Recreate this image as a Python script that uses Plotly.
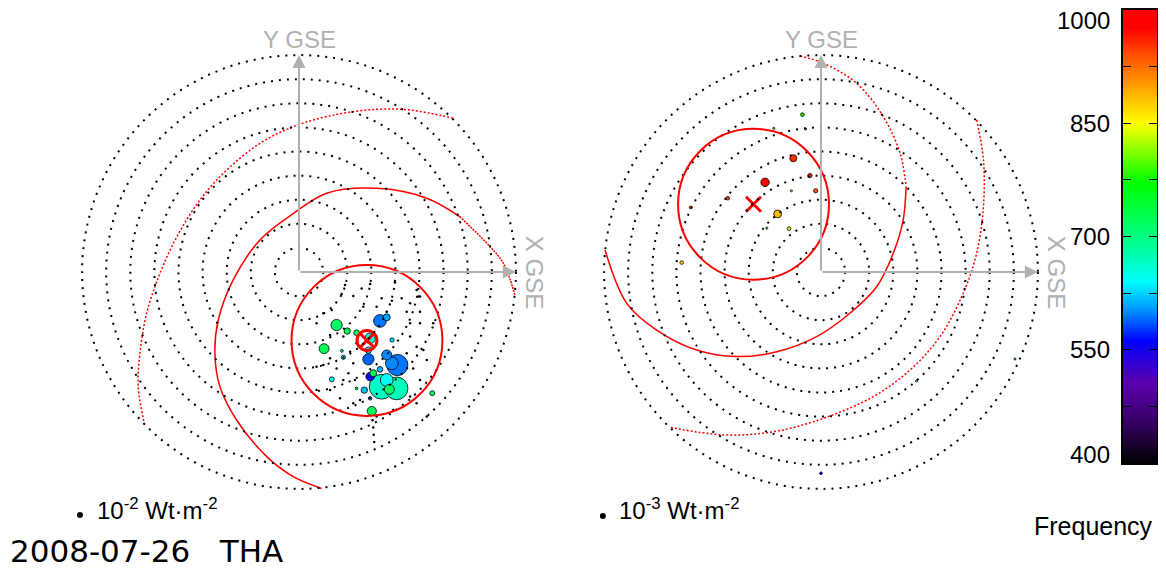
import numpy as np
import plotly.graph_objects as go

# ring radii (deg) of the sky grid, same for both panels
ring_r = [10, 20, 30, 40, 50, 60, 70, 80, 90]

# left panel (10^-2 W/m^2 scale) : x, y (GSE deg), frequency, power
big_x = [15.6, 20.0, 23.9, 33.6, 36.4, 10.4, 29.5, 28.8, 38.6, 28.8, 40.8, 36.4, 29.5, 30.8,
         33.6, 34.3, 40.5, 36.4, 37.5, 27.1, 30.2, 13.6, 18.4, 17.8, 55.3, 29.5, 23.9, 38.5]
big_y = [-22.0, -24.5, -25.2, -20.3, -18.8, -31.8, -27.5, -32.4, -28.2, -36.2, -38.6, -34.4, -43.4, -42.0,
         -40.4, -47.6, -48.3, -44.8, -48.7, -49.0, -57.7, -44.5, -35.4, -32.7, -50.3, -52.4, -48.3, -37.9]
big_f = [715, 720, 715, 595, 610, 725, 660, 640, 630, 590, 595, 600, 560, 720,
         615, 665, 670, 645, 715, 620, 725, 640, 650, 720, 710, 615, 720, 600]
big_p = [4.5, 1.44, 1.17, 5.8, 1.74, 3.5, 4.0, 1.44, 0.64, 4.5, 16, 3.5, 2.6, 1.74,
         1.17, 21.9, 18.3, 5.8, 3.5, 1.44, 3.0, 0.85, 0.64, 0.27, 0.85, 0.46, 0.27, 5.8]

# weak detections around the cluster
tiny_x = [19.1, 29.5, 39.8, 48.8, 50.2, 17.7, 22.5, 34.3, 38.5, 42.6, 46.1, 26.7, 32.2, 36.4, 44.7,
          50.2, 10.1, 13.6, 7.3, 46.1, 50.2, 55.7, 18.4, 12.9, 23.9, 21.2, 12.9, 7.3, 10.1, 15.6,
          22.5, 18.4, 23.2, 20.5, 12.9, 7.3, 17.0, 22.5, 25.3, 46.1, 48.8, 44.7, 51.6, 47.4, 50.2,
          53.0, 46.1, 39.1, 32.2, 48.8, 53.0, 26.0, 49.5, 30.5, 30.8, 31.0, 31.2]
tiny_y = [-5.4, -5.0, -4.4, -7.5, -10.2, -9.1, -10.0, -10.9, -11.9, -10.9, -13.0, -14.4, -14.4, -16.5, -16.5,
          -16.5, -17.1, -15.8, -21.3, -21.3, -21.3, -21.3, -26.8, -26.1, -29.6, -33.1, -35.8, -39.3, -38.6, -40.0,
          -37.9, -44.8, -44.8, -42.0, -49.0, -49.0, -52.4, -54.5, -53.1, -26.8, -31.0, -33.7, -32.4, -40.0, -44.8,
          -36.5, -51.7, -57.3, -60.0, -54.5, -60.0, -6.8, -10.2, -61.5, -64.5, -67.5, -70.5]

# right panel (10^-3 W/m^2 scale)
r_x = [-23.2, -11.5, -4.6, -2.2, -18.0, -13.3, -38.7, -54.1, -57.8, -7.7, -19.6, -6.4, -12.3, -22.5, 80.5, 39.7, 0.0]
r_y = [37.2, 47.2, 40.0, 33.7, 24.1, 18.0, 30.6, 26.8, 3.9, 65.3, 59.6, 59.3, 33.7, 18.2, -36.1, -45.2, -83.5]
r_f = [990, 955, 970, 935, 885, 855, 950, 930, 870, 775, 790, 820, 810, 800, 700, 760, 560]
r_p = [2.56, 1.74, 0.64, 0.64, 2.2, 0.46, 0.46, 0.27, 0.46, 0.46, 0.16, 0.16, 0.16, 0.16, 0.16, 0.16, 0.25]

# source position and cone circle
left_src = (28.2, -28.4)
right_src = (-28.0, 28.1)
cone_r = 31.3

# red curves
l_arc1a_x = [89.6, 84.8, 79.3, 66.8]
l_arc1a_y = [-9.5, 3.6, 10.5, 22.9]
l_arc1b_x = [66.8, 53.0, 32.2, 11.5, -2.3, -16.2, -27.3, -33.5, -34.9, -32.8, -25.9, -13.4, -2.4, 9.4]
l_arc1b_y = [22.9, 30.6, 34.7, 32.7, 24.3, 13.3, -3.3, -19.9, -33.7, -47.6, -61.4, -76.6, -84.9, -89.8]
l_arc2_x = [64.0, 46.1, 32.2, 14.2, -2.4, -16.2, -30.0, -41.1, -50.7, -57.7, -63.2, -66.0, -66.7, -63.9]
l_arc2_y = [63.8, 67.2, 67.5, 65.1, 60.3, 53.4, 42.3, 29.9, 14.6, -0.6, -17.1, -33.7, -47.6, -64.2]
r_arc1a_x = [-8.7, 1.0, 14.8, 25.9, 32.8, 35.3]
r_arc1a_y = [89.6, 86.6, 78.3, 64.4, 49.3, 35.4]
r_arc1b_x = [35.3, 34.1, 30.0, 23.1, 12.0, -1.8, -18.4, -35.0, -51.6, -68.2, -80.6, -89.6]
r_arc1b_y = [35.4, 21.6, 7.8, -6.1, -17.1, -26.8, -33.1, -35.1, -32.4, -24.1, -13.0, 9.1]
r_arc2_x = [64.6, 67.4, 67.4, 64.6, 59.0, 49.4, 36.9, 21.7, 1.0, -19.8, -40.5, -62.7]
r_arc2_y = [63.1, 46.5, 27.1, 7.8, -8.8, -26.8, -40.7, -51.7, -60.7, -66.3, -67.6, -64.4]

cbar_ticks = [400, 550, 700, 850, 1000]
cbar_minor = [475, 625, 775, 925]

rainbow = [
    [0.0, "rgb(0,0,0)"], [0.1, "rgb(60,0,110)"], [0.18, "rgb(90,0,175)"],
    [0.27, "rgb(0,0,255)"], [0.33, "rgb(0,130,255)"], [0.4, "rgb(0,255,255)"],
    [0.48, "rgb(0,255,150)"], [0.62, "rgb(0,255,0)"], [0.75, "rgb(255,255,0)"],
    [0.83, "rgb(255,160,0)"], [0.9, "rgb(255,80,0)"], [0.96, "rgb(255,0,0)"],
    [1.0, "rgb(255,0,0)"]]

GRAY = "#b0b0b0"
FONT = "Liberation Sans"
W, H = 1158, 560   # page body keeps an 8px margin
S = 2.41           # px per degree

fig = go.Figure()

shapes = []
annots = []
for xa, ya in [("x", "y"), ("x2", "y2")]:
    for r in ring_r:
        shapes.append(dict(type="circle", xref=xa, yref=ya, x0=-r, x1=r, y0=-r, y1=r,
                           line=dict(color="black", width=2, dash="2px,6px")))
    annots.append(dict(x=90, y=0, ax=0, ay=0, xref=xa, yref=ya, axref=xa, ayref=ya, text="",
                       showarrow=True, arrowhead=2, arrowsize=1.3, arrowwidth=2, arrowcolor=GRAY))
    annots.append(dict(x=0, y=90, ax=0, ay=0, xref=xa, yref=ya, axref=xa, ayref=ya, text="",
                       showarrow=True, arrowhead=2, arrowsize=1.3, arrowwidth=2, arrowcolor=GRAY))
    annots.append(dict(x=0, y=96.5, xref=xa, yref=ya, text="Y GSE", showarrow=False,
                       font=dict(size=24, color=GRAY, family=FONT)))
    annots.append(dict(x=98, y=0, xref=xa, yref=ya, text="X GSE", showarrow=False, textangle=90,
                       font=dict(size=24, color=GRAY, family=FONT)))

for xa, ya, src in [("x", "y", left_src), ("x2", "y2", right_src)]:
    shapes.append(dict(type="circle", xref=xa, yref=ya,
                       x0=src[0] - cone_r, x1=src[0] + cone_r, y0=src[1] - cone_r, y1=src[1] + cone_r,
                       line=dict(color="red", width=2)))

# red curves
curves = [(l_arc1a_x, l_arc1a_y, "x", "y", "2px,1px"), (l_arc1b_x, l_arc1b_y, "x", "y", "solid"),
          (l_arc2_x, l_arc2_y, "x", "y", "2px,2px"),
          (r_arc1a_x, r_arc1a_y, "x2", "y2", "2px,2px"), (r_arc1b_x, r_arc1b_y, "x2", "y2", "solid"),
          (r_arc2_x, r_arc2_y, "x2", "y2", "2px,2px")]
for cx, cy, xa, ya, dash in curves:
    fig.add_trace(go.Scatter(x=cx, y=cy, mode="lines", xaxis=xa, yaxis=ya,
                             line=dict(color="red", width=1.5, dash=dash, shape="spline"),
                             showlegend=False, hoverinfo="skip"))


def size_of(p):
    return 5.3 * np.sqrt(np.array(p, dtype=float))


# tiny points (left)
fig.add_trace(go.Scatter(x=tiny_x, y=tiny_y, mode="markers", xaxis="x", yaxis="y",
                         marker=dict(size=2.5, color="black"), showlegend=False))

# coloured detections, biggest drawn first
for px_, py_, pf, pp, xa, ya in [(big_x, big_y, big_f, big_p, "x", "y"), (r_x, r_y, r_f, r_p, "x2", "y2")]:
    order = np.argsort(pp)[::-1]
    fig.add_trace(go.Scatter(x=np.array(px_)[order], y=np.array(py_)[order], mode="markers",
                             xaxis=xa, yaxis=ya,
                             marker=dict(size=size_of(pp)[order], color=np.array(pf)[order],
                                         colorscale=rainbow, cmin=400, cmax=1000,
                                         line=dict(color="black", width=0.8), opacity=1),
                             showlegend=False))

# source markers
fig.add_trace(go.Scatter(x=[left_src[0]], y=[left_src[1]], mode="markers", xaxis="x", yaxis="y",
                         marker=dict(symbol="circle-x-open", size=20, color="red", line=dict(width=3, color="red")),
                         showlegend=False))
fig.add_trace(go.Scatter(x=[right_src[0]], y=[right_src[1]], mode="markers", xaxis="x2", yaxis="y2",
                         marker=dict(symbol="x-thin-open", size=15, color="red", line=dict(width=3, color="red")),
                         showlegend=False))

# colour bar drawn as a heatmap
levels = np.linspace(400, 1000, 301)
fig.add_trace(go.Heatmap(z=[[v] for v in levels], x=[0], y=levels, colorscale=rainbow,
                         zmin=400, zmax=1000, showscale=False, xaxis="x3", yaxis="y3", hoverinfo="skip"))
for t in cbar_ticks:
    shift = -11 if t == 1000 else (9 if t == 400 else 0)
    annots.append(dict(x=1104 / W, y=t, xref="paper", yref="y3", xanchor="right", yanchor="middle",
                       yshift=shift, showarrow=False, text=str(t),
                       font=dict(size=24, family=FONT, color="black")))

# legend dots under each panel
fig.add_trace(go.Scatter(x=[-90.9], y=[-100.8], mode="markers", xaxis="x", yaxis="y",
                         marker=dict(size=6, color="black"), showlegend=False))
fig.add_trace(go.Scatter(x=[-90.5], y=[-101.2], mode="markers", xaxis="x2", yaxis="y2",
                         marker=dict(size=6, color="black"), showlegend=False))
annots.append(dict(x=-84.5, y=-98.5, xref="x", yref="y", xanchor="left", yanchor="middle", showarrow=False,
                   text="10<sup>-2</sup> Wt·m<sup>-2</sup>", font=dict(size=24, family=FONT, color="black")))
annots.append(dict(x=-84.5, y=-98.5, xref="x2", yref="y2", xanchor="left", yanchor="middle", showarrow=False,
                   text="10<sup>-3</sup> Wt·m<sup>-2</sup>", font=dict(size=24, family=FONT, color="black")))
annots.append(dict(x=0, y=(H - 543) / H, xref="paper", yref="paper", xanchor="left", yanchor="middle",
                   showarrow=False, text="2008-07-26&nbsp;&nbsp;&nbsp;THA",
                   font=dict(size=31, family="DejaVu Sans", color="black")))
annots.append(dict(x=1085 / W, y=(H - 518) / H, xref="paper", yref="paper", xanchor="center",
                   yanchor="middle", showarrow=False,
                   text="Frequency", font=dict(size=25, family=FONT, color="black")))

# origins of the two panels in figure px
ox1, ox2, oy = 291, 813, 264
split = 575
hidden = dict(visible=False)
yr = [(oy - H) / S, oy / S]
fig.update_layout(
    width=W, height=H, margin=dict(l=0, r=0, t=0, b=0),
    plot_bgcolor="white", paper_bgcolor="white",
    shapes=shapes, annotations=annots,
    xaxis=dict(domain=[0, split / W], range=[-ox1 / S, (split - ox1) / S], **hidden),
    yaxis=dict(domain=[0, 1], range=yr, **hidden),
    xaxis2=dict(domain=[split / W, 1], range=[(split - ox2) / S, (W - ox2) / S], anchor="y2", **hidden),
    yaxis2=dict(domain=[0, 1], range=yr, anchor="x2", **hidden),
    xaxis3=dict(domain=[1115 / W, 1149 / W], range=[-0.5, 0.5], anchor="y3",
                showticklabels=False, ticks="", showline=True, mirror=True,
                linecolor="black", linewidth=1.5, showgrid=False, zeroline=False),
    yaxis3=dict(domain=[(H - 455) / H, (H - 2) / H], range=[400, 1000], anchor="x3",
                tickvals=cbar_ticks, ticks="inside", ticklen=8, tickcolor="black", showticklabels=False,
                showline=True, mirror="allticks", linecolor="black", linewidth=1.5,
                showgrid=False, zeroline=False,
                minor=dict(tickvals=cbar_minor, ticks="inside", ticklen=8, tickcolor="black")),
)

fig.write_html("out.html")
